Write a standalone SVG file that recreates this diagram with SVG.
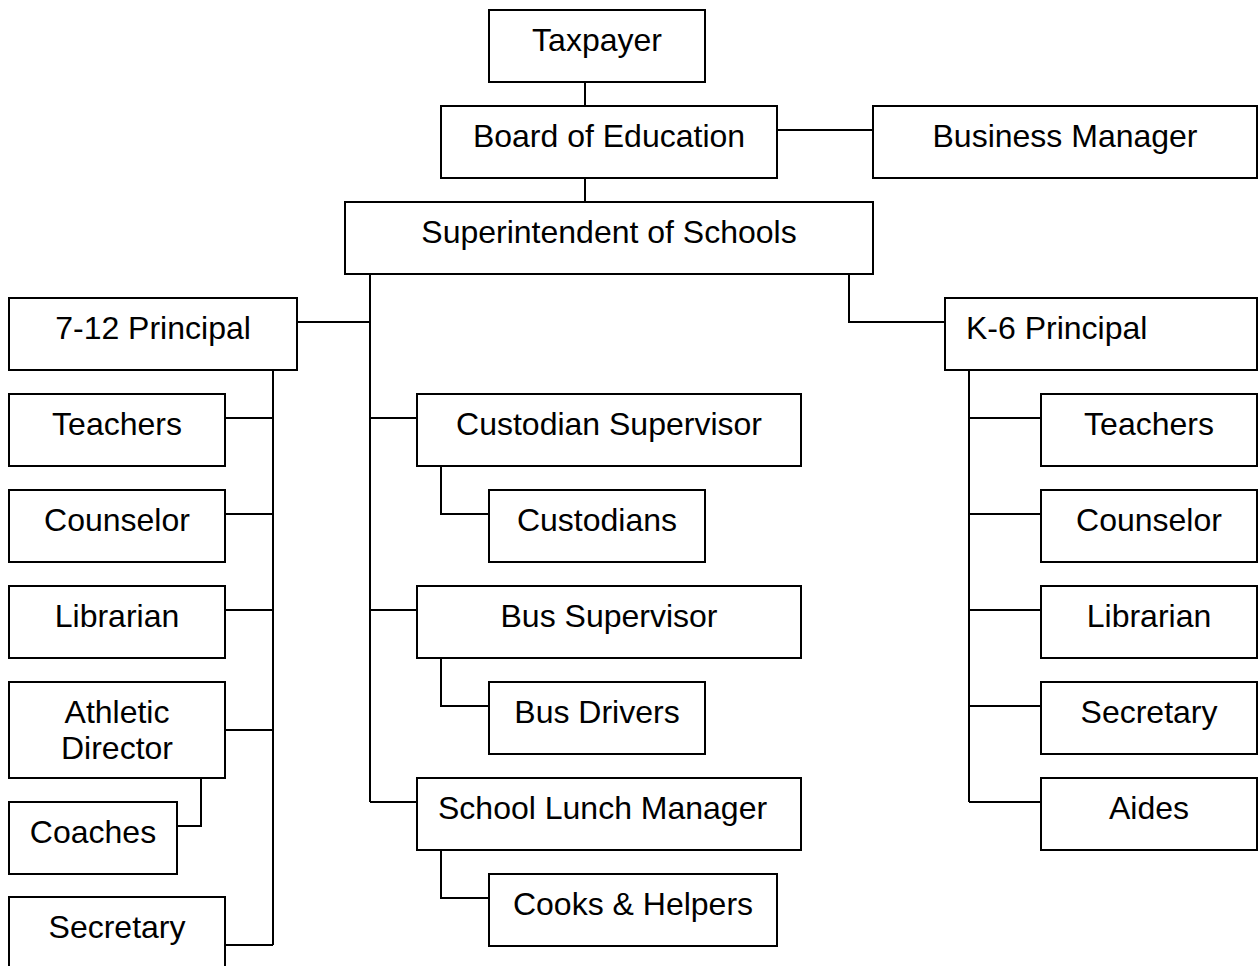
<svg xmlns="http://www.w3.org/2000/svg" width="1259" height="966" viewBox="0 0 1259 966">
<style>
rect{fill:#fff;stroke:#000;stroke-width:2}
text{font-family:"Liberation Sans",Arial,sans-serif;font-size:32px;fill:#000;text-anchor:middle}
text.l{text-anchor:start}
#connectors path{fill:none;stroke:#000;stroke-width:2}
</style>
<rect x="0" y="0" width="1259" height="966" style="stroke:none"/>
<g id="connectors">
<path d="M585 82V106M777 130H873M585 178V202"/>
<path d="M370 274V802M297 322H370M370 418H417M370 610H417M370 802H417"/>
<path d="M849 274V322H945"/>
<path d="M273 370V945M225 418H273M225 514H273M225 610H273M225 730H273M225 945H273M201 778V826H177"/>
<path d="M441 466V514H489M441 658V706H489M441 850V898H489"/>
<path d="M969 370V802M969 418H1041M969 514H1041M969 610H1041M969 706H1041M969 802H1041"/>
</g>
<g id="taxpayer"><rect x="489" y="10" width="216" height="72"/><text x="597" y="51">Taxpayer</text></g>
<g id="board"><rect x="441" y="106" width="336" height="72"/><text x="609" y="147">Board of Education</text></g>
<g id="business"><rect x="873" y="106" width="384" height="72"/><text x="1065" y="147">Business Manager</text></g>
<g id="superintendent"><rect x="345" y="202" width="528" height="72"/><text x="609" y="243">Superintendent of Schools</text></g>
<g id="p712"><rect x="9" y="298" width="288" height="72"/><text x="153" y="339">7-12 Principal</text></g>
<g id="k6"><rect x="945" y="298" width="312" height="72"/><text class="l" x="966" y="339">K-6 Principal</text></g>
<g id="l-teachers"><rect x="9" y="394" width="216" height="72"/><text x="117" y="435">Teachers</text></g>
<g id="l-counselor"><rect x="9" y="490" width="216" height="72"/><text x="117" y="531">Counselor</text></g>
<g id="l-librarian"><rect x="9" y="586" width="216" height="72"/><text x="117" y="627">Librarian</text></g>
<g id="athletic"><rect x="9" y="682" width="216" height="96"/><text x="117" y="723">Athletic</text><text x="117" y="759">Director</text></g>
<g id="coaches"><rect x="9" y="802" width="168" height="72"/><text x="93" y="843">Coaches</text></g>
<g id="l-secretary"><rect x="9" y="897" width="216" height="80"/><text x="117" y="938">Secretary</text></g>
<g id="custsup"><rect x="417" y="394" width="384" height="72"/><text x="609" y="435">Custodian Supervisor</text></g>
<g id="custodians"><rect x="489" y="490" width="216" height="72"/><text x="597" y="531">Custodians</text></g>
<g id="bussup"><rect x="417" y="586" width="384" height="72"/><text x="609" y="627">Bus Supervisor</text></g>
<g id="busdrivers"><rect x="489" y="682" width="216" height="72"/><text x="597" y="723">Bus Drivers</text></g>
<g id="lunch"><rect x="417" y="778" width="384" height="72"/><text class="l" x="438" y="819">School Lunch Manager</text></g>
<g id="cooks"><rect x="489" y="874" width="288" height="72"/><text x="633" y="915">Cooks &amp; Helpers</text></g>
<g id="r-teachers"><rect x="1041" y="394" width="216" height="72"/><text x="1149" y="435">Teachers</text></g>
<g id="r-counselor"><rect x="1041" y="490" width="216" height="72"/><text x="1149" y="531">Counselor</text></g>
<g id="r-librarian"><rect x="1041" y="586" width="216" height="72"/><text x="1149" y="627">Librarian</text></g>
<g id="r-secretary"><rect x="1041" y="682" width="216" height="72"/><text x="1149" y="723">Secretary</text></g>
<g id="aides"><rect x="1041" y="778" width="216" height="72"/><text x="1149" y="819">Aides</text></g>
</svg>
